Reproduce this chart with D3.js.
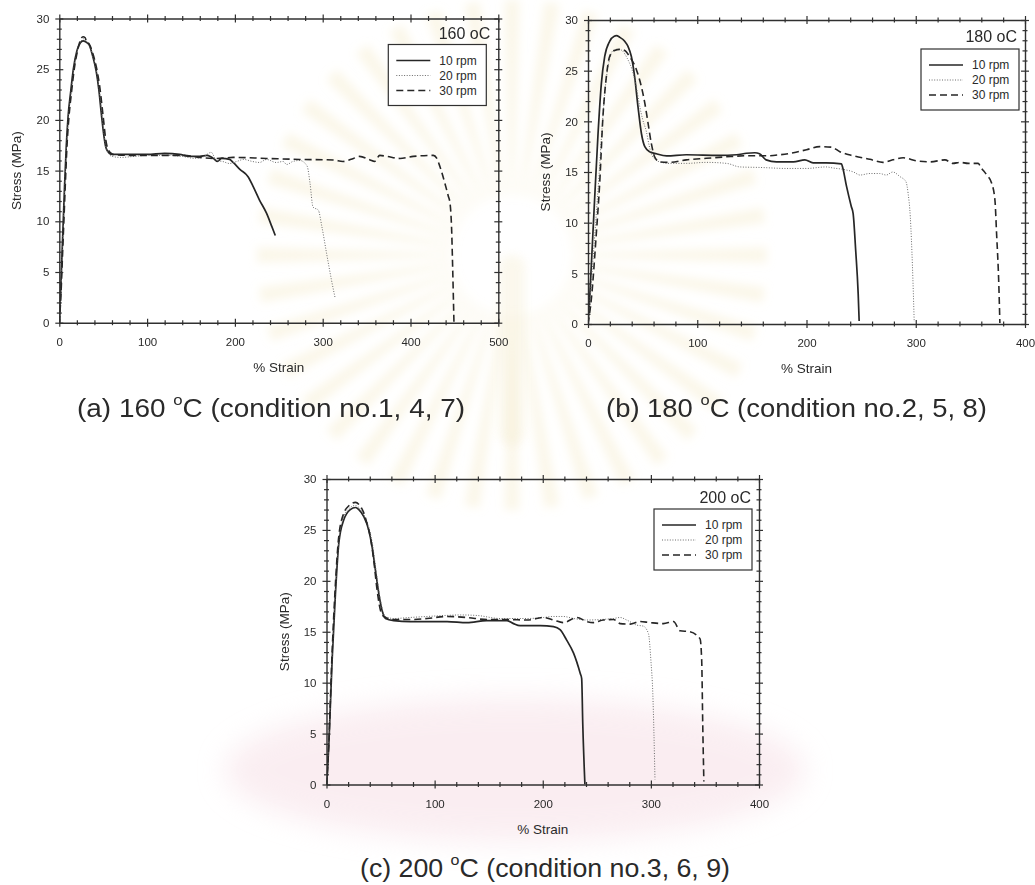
<!DOCTYPE html>
<html>
<head>
<meta charset="utf-8">
<script src="https://cdn.jsdelivr.net/npm/d3@7"></script>
<style>
  html, body { margin: 0; padding: 0; background: #ffffff; }
  svg { display: block; }
  text { font-family: "Liberation Sans", Arial, Helvetica, sans-serif; fill: #2a2a2a; }
</style>
</head>
<body>
<svg id="fig" width="1035" height="885"></svg>
<script>
// ---- series legend and panel labels ----
const speeds = ["10 rpm", "20 rpm", "30 rpm"];
const temperatures = ["160", "180", "200"];
const captionLetters = ["(a)", "(b)", "(c)"];
const captionConditions = ["(condition no.1, 4, 7)", "(condition no.2, 5, 8)", "(condition no.3, 6, 9)"];
const strainMax = [500, 400, 400];
const stressTicks = [0, 5, 10, 15, 20, 25, 30];
const strainTicks500 = [0, 100, 200, 300, 400, 500];
const strainTicks400 = [0, 100, 200, 300, 400];

// ---- stress-strain curves: [% strain, stress MPa] ----
// 160 oC
const t160_10rpm = [[0,0],[1.5,3],[3,6.5],[4.5,10],[6,13.5],[8,17.5],[10,20.3],[13,22.8],[16,25],[20,26.8],[24,27.6],[27,27.8],[30,27.7],[34,27.4],[38,26.3],[42,24.8],[45,23],[48,20.5],[51,18.3],[53,17.3],[56,16.8],[60,16.6],[80,16.6],[100,16.6],[120,16.7],[137,16.6],[149,16.4],[160,16.4],[168,16.5],[172,16.4],[177,16.1],[180,15.9],[185,16.2],[194,16.1],[198,15.8],[206,15.1],[215,14.4],[221,13.4],[228,12.1],[236,10.8],[242,9.5],[246,8.6]];
const t160_20rpm = [[0,0],[1.8,3],[3.3,6.5],[4.8,10],[6.3,13.5],[8.3,17.5],[10.5,20.3],[13.5,22.8],[16.5,25],[20.5,26.9],[24.5,27.7],[27.5,28],[30.5,27.8],[34,27.4],[38,26.3],[42,25],[45,23.3],[48,21],[51,18.6],[53,17.3],[56,16.7],[60,16.4],[70,16.3],[85,16.4],[100,16.5],[120,16.5],[140,16.4],[155,16.2],[165,16.4],[173,16.8],[179,16.0],[186,15.9],[194,15.7],[202,15.9],[210,16.1],[220,15.9],[228,15.8],[236,16.1],[247,15.8],[255,15.9],[259,15.6],[266,15.9],[274,16.0],[280,15.7],[282.5,15.4],[285.5,13.8],[289,11.4],[295,11.1],[299,9.5],[304.5,6.8],[310,4.2],[314,2.5]];
const t160_30rpm = [[0,0],[2,3],[3.6,6.5],[5.2,10],[6.8,13.5],[8.8,17.5],[11,20.3],[14,22.8],[17,25],[21,26.9],[24.7,28],[27,28.2],[29.5,28.1],[31,27.7],[34,27.5],[38,26.6],[42,25.3],[46,23.3],[50,20.3],[53,18],[56,17],[61,16.6],[80,16.5],[100,16.5],[141,16.5],[160,16.3],[179,16.2],[198,16.3],[236,16.2],[274,16.1],[312,16.05],[323,15.9],[335,16.2],[342,16.4],[354,16.05],[359,15.9],[365,16.5],[373,16.4],[388,16.2],[403,16.4],[426,16.5],[430,16.2],[433.5,15.4],[439,13.8],[443,12.5],[445,11.8],[447,8.8],[448,5.5],[449.5,0]];
// 180 oC
const t180_10rpm = [[0,0],[1.5,2.5],[3,5.7],[6,12.2],[9.2,18.8],[12.2,23.7],[15.3,26.4],[19.8,27.9],[24,28.4],[26,28.45],[29,28.3],[33.6,27.9],[36.6,27.4],[39.7,26.4],[42.7,24.4],[45.8,21.4],[48.9,18.8],[52,17.5],[56.5,17.0],[62.6,16.8],[72,16.6],[90,16.7],[120,16.65],[136,16.7],[145,16.85],[152.7,16.9],[157,16.8],[163,16.2],[172.5,16.0],[188,16.0],[198.5,16.2],[206,15.9],[218,15.9],[232,15.8],[233,15.5],[236.6,13.6],[241,11.6],[242.7,10.9],[245,7.3],[247.3,3.0],[248.2,0.3]];
const t180_20rpm = [[0,0],[2,2.5],[4,5.5],[7,10],[10,14.5],[13,19.5],[16,23.5],[19.5,26],[23,27],[26,27.1],[29,27.1],[32,26.9],[36,26.2],[40,25.2],[44,23.5],[47.3,21.5],[50,20.2],[53.4,19],[56,17.6],[58,16.8],[62,16.2],[65.6,16.0],[74.8,15.85],[90,15.85],[108,15.95],[127,15.85],[139,15.5],[157,15.45],[182,15.35],[200,15.35],[218,15.5],[224,15.4],[234,15.25],[243,15.0],[249,14.7],[258,14.85],[267,14.85],[273,14.7],[279,15.0],[285.5,14.55],[291,14.05],[293,12.9],[295,10.6],[297,5.65],[298.6,0.2]];
const t180_30rpm = [[0,0],[3,2.4],[7.6,8.9],[10.7,13.9],[13.7,20.5],[16.8,24.4],[19.8,26.4],[24.4,27.0],[29,27.1],[33.6,27.0],[38,26.4],[44.3,25.1],[48.9,23.4],[52,21.8],[55,19.8],[58,17.8],[61,16.5],[65.6,16.0],[74.8,15.95],[90,16.2],[108.4,16.35],[126.7,16.5],[145,16.6],[163.4,16.6],[175.6,16.7],[188,16.9],[200,17.2],[212,17.5],[223,17.45],[230.5,17.0],[242.7,16.6],[258,16.25],[270,15.95],[279,16.2],[288.5,16.4],[300.8,16.1],[313,16.0],[326.7,16.2],[334,15.85],[340.5,15.95],[348,15.85],[357,15.85],[360,15.4],[365,14.7],[369.5,13.9],[372.5,12.2],[374,8.9],[376,4.0],[377,0.1]];
// 200 oC
const t200_10rpm = [[0,0],[1,1.5],[2.2,4.0],[5.2,12.2],[8.3,18.8],[11.4,23.7],[16,26.0],[22,27.0],[26.8,27.2],[29.9,27.0],[34.5,26.3],[39,25.0],[42.2,23.3],[45.3,21.0],[48.3,18.8],[51.4,17.1],[54.5,16.3],[62.2,16.1],[77.6,16.0],[93,16.0],[111.5,16.0],[130,15.9],[148,16.1],[167,16.1],[173,15.8],[179,15.6],[197.7,15.6],[210,15.5],[216,15.2],[222,14.2],[228.5,12.9],[234.7,10.9],[236,10.4],[237,6],[239,0]];
const t200_20rpm = [[0,0],[1,1.5],[2.2,4.2],[5.2,12.5],[8.3,19],[11.4,23.9],[16,26.3],[22,27.2],[26.5,27.4],[30,27.2],[34.5,26.5],[39,25.3],[42.5,23.6],[45.5,21.3],[48.5,19.0],[51.5,17.3],[54.5,16.5],[62,16.3],[77,16.4],[93,16.5],[110,16.6],[124,16.65],[139,16.6],[160.7,16.3],[185,16.3],[200.8,16.4],[210,16.5],[219,16.5],[228.5,16.3],[240.8,16.15],[253,16.2],[265.4,16.3],[271.6,16.4],[277.7,16.15],[287,15.65],[293,15.55],[297.8,14.8],[300,12.2],[301.8,8.9],[303.8,0.5]];
const t200_30rpm = [[0,0],[1,1.5],[2.2,4.2],[5,12.5],[8,19.2],[11,24],[15.5,26.5],[21,27.4],[26.8,27.7],[30,27.5],[34,26.8],[37.5,25.6],[40.6,24.3],[43.7,22.0],[46.8,19.1],[49.9,17.1],[53,16.5],[62.2,16.2],[77.6,16.2],[93,16.3],[111.5,16.5],[130,16.4],[148.4,16.2],[167,16.2],[185.4,16.15],[200.8,16.4],[210,16.15],[219,15.9],[231.6,16.4],[240.8,16.0],[247,15.9],[256,16.15],[265.4,16.2],[271.6,15.8],[280.8,15.75],[290,16.0],[299,15.9],[311.6,15.8],[320.9,16.0],[327,15.1],[336,15.0],[345.5,14.3],[347,12.2],[348,5.7],[349,0.3]];

const curves = [
  [t160_10rpm, t160_20rpm, t160_30rpm],
  [t180_10rpm, t180_20rpm, t180_30rpm],
  [t200_10rpm, t200_20rpm, t200_30rpm]
];
const strainTicks = [strainTicks500, strainTicks400, strainTicks400];

// ---- page layout (pixel boxes of each plot area) ----
const frames = [
  { left: 59.3, right: 498.3, top: 18.5, bottom: 322.7, legendRight: 12, legendTop: 26, labelDy: 20.5, captionX: 77,  captionW: 388, captionY: 417 },
  { left: 588,  right: 1025,  top: 20,   bottom: 324,   legendRight: 6,  legendTop: 29, labelDy: 22,   captionX: 606, captionW: 381, captionY: 417 },
  { left: 326.5,right: 759,   top: 479,  bottom: 784.5, legendRight: 7,  legendTop: 30, labelDy: 24,   captionX: 360, captionW: 370, captionY: 877 }
];
const seriesStyle = [
  { dash: null,  width: 1.7, color: "#262626" },
  { dash: "1,1.6", width: 1.0, color: "#6a6a6a" },
  { dash: "7,4", width: 1.6, color: "#262626" }
];
const ink = "#303030";

const svg = d3.select("#fig");

// ---- faint background emblem ----
const defs = svg.append("defs");
defs.append("filter").attr("id", "soft").attr("x", "-30%").attr("y", "-30%").attr("width", "160%").attr("height", "160%")
  .append("feGaussianBlur").attr("stdDeviation", 5);
defs.append("filter").attr("id", "softer").attr("x", "-30%").attr("y", "-30%").attr("width", "160%").attr("height", "160%")
  .append("feGaussianBlur").attr("stdDeviation", 14);

const emblem = svg.append("g").attr("class", "emblem");
emblem.append("ellipse")
  .attr("cx", 515).attr("cy", 770).attr("rx", 290).attr("ry", 72)
  .attr("fill", "#f6dde4").attr("opacity", 0.5).attr("filter", "url(#softer)");
const rayCount = 40;
const rays = d3.range(rayCount).map(i => i * 2 * Math.PI / rayCount);
const rayArc = d3.arc().innerRadius(60).outerRadius(255);
emblem.append("g").attr("transform", "translate(512,255)")
  .attr("filter", "url(#soft)")
  .selectAll("path").data(rays).join("path")
  .attr("d", a => rayArc({ startAngle: a - 0.03, endAngle: a + 0.03 }))
  .attr("fill", "#f3e6bb").attr("opacity", 0.32);
emblem.append("rect")
  .attr("x", 499).attr("y", 255).attr("width", 26).attr("height", 190).attr("rx", 12)
  .attr("fill", "#f3e8c4").attr("opacity", 0.3).attr("filter", "url(#soft)");

// ---- panels ----
frames.forEach((f, p) => {
  const g = svg.append("g").attr("class", "panel-" + p);
  const x = d3.scaleLinear().domain([0, strainMax[p]]).range([f.left, f.right]);
  const y = d3.scaleLinear().domain([0, 30]).range([f.bottom, f.top]);

  const majorX = strainTicks[p];
  const minorX = d3.range(0, strainMax[p] + 0.1, 20).filter(v => v % 100 !== 0);
  const minorY = d3.range(0, 30.1, 1).filter(v => v % 5 !== 0);

  const clipId = "clip" + p;
  defs.append("clipPath").attr("id", clipId)
    .append("rect").attr("x", f.left).attr("y", f.top - 2)
    .attr("width", f.right - f.left).attr("height", f.bottom - f.top + 2);

  // curves
  const line = d3.line().x(d => x(d[0])).y(d => y(d[1])).curve(d3.curveMonotoneX);
  const cg = g.append("g").attr("clip-path", "url(#" + clipId + ")");
  curves[p].forEach((c, s) => {
    cg.append("path").datum(c)
      .attr("d", line)
      .attr("fill", "none")
      .attr("stroke", seriesStyle[s].color)
      .attr("stroke-width", seriesStyle[s].width)
      .attr("stroke-dasharray", seriesStyle[s].dash)
      .attr("stroke-linejoin", "round");
  });

  // axes on all four sides, ticks crossing the frame
  function axisLayer(axisGen, tr, vals, size, labels, cross) {
    const ag = g.append("g").attr("transform", tr)
      .call(axisGen.tickValues(vals).tickSize(size).tickSizeOuter(0)
        .tickFormat(labels ? d3.format("d") : ""));
    ag.select(".domain").attr("stroke", ink).attr("stroke-width", 1.4);
    ag.selectAll(".tick line").attr("stroke", ink).attr("stroke-width", 1.2);
    ag.selectAll(".tick line").each(function () {
      const el = d3.select(this);
      if (el.attr("x2") !== null && +el.attr("x2") !== 0) el.attr("x1", cross * -Math.sign(+el.attr("x2")));
      if (el.attr("y2") !== null && +el.attr("y2") !== 0) el.attr("y1", cross * -Math.sign(+el.attr("y2")));
    });
    return ag;
  }
  // bottom
  const bx = axisLayer(d3.axisBottom(x), `translate(0,${f.bottom})`, majorX, 4, true, 4);
  bx.selectAll("text").attr("font-size", 11.5).attr("fill", ink).attr("y", 15).attr("dy", "0.71em");
  axisLayer(d3.axisBottom(x), `translate(0,${f.bottom})`, minorX, 2.5, false, 2.5).select(".domain").remove();
  // top
  axisLayer(d3.axisTop(x), `translate(0,${f.top})`, majorX, 4, false, 4);
  axisLayer(d3.axisTop(x), `translate(0,${f.top})`, minorX, 2.5, false, 2.5).select(".domain").remove();
  // left
  const ly = axisLayer(d3.axisLeft(y), `translate(${f.left},0)`, stressTicks, 4, true, 4);
  ly.selectAll("text").attr("font-size", 11.5).attr("fill", ink).attr("x", -10);
  axisLayer(d3.axisLeft(y), `translate(${f.left},0)`, minorY, 2.5, false, 2.5).select(".domain").remove();
  // right
  axisLayer(d3.axisRight(y), `translate(${f.right},0)`, stressTicks, 4, false, 4);
  axisLayer(d3.axisRight(y), `translate(${f.right},0)`, minorY, 2.5, false, 2.5).select(".domain").remove();
  g.selectAll(".tick text").attr("font-family", '"Liberation Sans", Arial, sans-serif');

  // axis titles
  g.append("text")
    .attr("x", (f.left + f.right) / 2).attr("y", f.bottom + 49)
    .attr("text-anchor", "middle").attr("font-size", 13.5)
    .text("% Strain");
  g.append("text")
    .attr("transform", `translate(${f.left - 38},${(f.top + f.bottom) / 2}) rotate(-90)`)
    .attr("text-anchor", "middle").attr("font-size", 13.5)
    .text("Stress (MPa)");

  // temperature tag
  g.append("text")
    .attr("x", f.right - 8).attr("y", f.top + f.labelDy)
    .attr("text-anchor", "end").attr("font-size", 16).attr("fill", "#1e1e1e")
    .text(temperatures[p] + " oC");

  // legend
  const lw = 98, lh = 61;
  const lx = f.right - f.legendRight - lw, lyTop = f.top + f.legendTop;
  const lg = g.append("g").attr("transform", `translate(${lx},${lyTop})`);
  lg.append("rect").attr("width", lw).attr("height", lh)
    .attr("fill", "#ffffff").attr("stroke", ink).attr("stroke-width", 1.2);
  speeds.forEach((s, i) => {
    const yy = 16 + i * 15;
    lg.append("line").attr("x1", 8).attr("x2", 42).attr("y1", yy).attr("y2", yy)
      .attr("stroke", seriesStyle[i].color)
      .attr("stroke-width", seriesStyle[i].width)
      .attr("stroke-dasharray", seriesStyle[i].dash);
    lg.append("text").attr("x", 51).attr("y", yy).attr("dy", "0.35em")
      .attr("font-size", 12).text(s);
  });

  // caption below the panel
  const cap = svg.append("text")
    .attr("x", f.captionX).attr("y", f.captionY)
    .attr("font-size", 25).attr("fill", "#444444")
    .attr("textLength", f.captionW).attr("lengthAdjust", "spacingAndGlyphs");
  cap.append("tspan").text(captionLetters[p] + " " + temperatures[p] + " ");
  cap.append("tspan").attr("font-size", 15).attr("dy", -12).text("o");
  cap.append("tspan").attr("dy", 12).text("C " + captionConditions[p]);
});
</script>
</body>
</html>
